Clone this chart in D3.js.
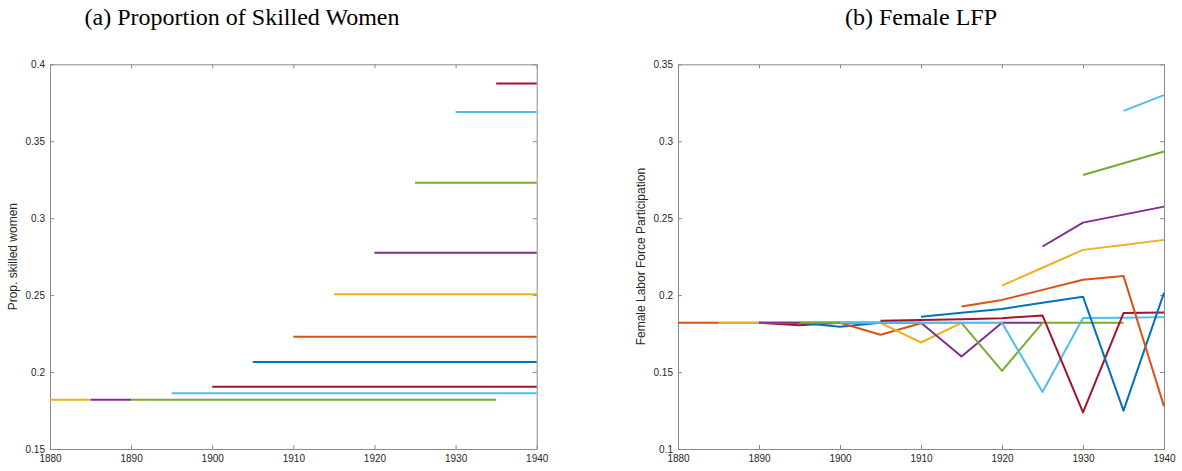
<!DOCTYPE html>
<html>
<head>
<meta charset="utf-8">
<script src="https://cdn.jsdelivr.net/npm/d3@7"></script>
<style>
  body { margin: 0; background: #fff; }
  svg { display: block; }
  .tick text { font-family: "Liberation Sans", Arial, sans-serif; font-size: 10px; fill: #262626; }
  .axis path, .axis line { stroke: #8a8a8a; }
  .ylabel { font-family: "Liberation Sans", Arial, sans-serif; font-size: 12px; fill: #262626; }
  .title { font-family: "Liberation Serif", "DejaVu Serif", serif; font-size: 24px; fill: #000; }
</style>
</head>
<body>
<svg id="chart" width="1182" height="471"></svg>
<script>
const _ = null;
const years = [1880, 1885, 1890, 1895, 1900, 1905, 1910, 1915, 1920, 1925, 1930, 1935, 1940];
const xTicks = [1880, 1890, 1900, 1910, 1920, 1930, 1940];

// matlab default colour order
const blue = "#0072BD", orange = "#D95319", yellow = "#EDB120", purple = "#7E2F8E",
  green = "#77AC30", lightBlue = "#4DBEEE", darkRed = "#A2142F";

// (a) proportion of skilled women
const skilledTicks = [0.15, 0.2, 0.25, 0.3, 0.35, 0.4];
const skilledColors = [yellow, purple, green, lightBlue, darkRed, blue, orange, yellow, purple, green, lightBlue, darkRed];
const skilledValues = [
  [0.182, 0.182, _, _, _, _, _, _, _, _, _, _, _],
  [_, 0.182, 0.182, _, _, _, _, _, _, _, _, _, _],
  [_, _, 0.182, 0.182, 0.182, 0.182, 0.182, 0.182, 0.182, 0.182, 0.182, 0.182, _],
  [_, _, _, 0.1863, 0.1863, 0.1863, 0.1863, 0.1863, 0.1863, 0.1863, 0.1863, 0.1863, 0.1863],
  [_, _, _, _, 0.1904, 0.1904, 0.1904, 0.1904, 0.1904, 0.1904, 0.1904, 0.1904, 0.1904],
  [_, _, _, _, _, 0.2066, 0.2066, 0.2066, 0.2066, 0.2066, 0.2066, 0.2066, 0.2066],
  [_, _, _, _, _, _, 0.2229, 0.2229, 0.2229, 0.2229, 0.2229, 0.2229, 0.2229],
  [_, _, _, _, _, _, _, 0.2505, 0.2505, 0.2505, 0.2505, 0.2505, 0.2505],
  [_, _, _, _, _, _, _, _, 0.2775, 0.2775, 0.2775, 0.2775, 0.2775],
  [_, _, _, _, _, _, _, _, _, 0.323, 0.323, 0.323, 0.323],
  [_, _, _, _, _, _, _, _, _, _, 0.369, 0.369, 0.369],
  [_, _, _, _, _, _, _, _, _, _, _, 0.3876, 0.3876]
];

// (b) female LFP
const lfpTicks = [0.1, 0.15, 0.2, 0.25, 0.3, 0.35];
const lfpColors = [darkRed, blue, orange, yellow, purple, green, lightBlue, darkRed, blue, orange, yellow, purple, green, lightBlue];
const lfpValues = [
  [_, _, 0.182, 0.1805, 0.182, _, _, _, _, _, _, _, _],
  [_, _, _, 0.182, 0.1795, 0.182, _, _, _, _, _, _, _],
  [0.182, 0.182, 0.182, 0.182, 0.182, 0.1742, 0.1817, _, _, _, _, _, _],
  [_, 0.182, 0.182, 0.182, 0.182, 0.182, 0.1692, 0.182, 0.182, _, _, _, _],
  [_, _, 0.182, 0.182, 0.182, 0.182, 0.182, 0.1601, 0.182, 0.182, _, _, _],
  [_, _, _, 0.182, 0.182, 0.182, 0.182, 0.182, 0.1508, 0.182, 0.182, 0.182, _],
  [_, _, _, _, 0.182, 0.182, 0.182, 0.182, 0.182, 0.137, 0.1851, 0.1853, 0.1857],
  [_, _, _, _, _, 0.1834, 0.1838, 0.1843, 0.185, 0.1868, 0.1238, 0.1883, 0.1887],
  [_, _, _, _, _, _, 0.186, 0.1885, 0.191, 0.195, 0.199, 0.1249, 0.2015],
  [_, _, _, _, _, _, _, 0.1926, 0.1969, 0.2034, 0.21, 0.2125, 0.1277],
  [_, _, _, _, _, _, _, _, 0.2062, 0.2178, 0.2294, 0.2325, 0.2359],
  [_, _, _, _, _, _, _, _, _, 0.2316, 0.2471, 0.2523, 0.2575],
  [_, _, _, _, _, _, _, _, _, _, 0.2781, 0.2857, 0.2933],
  [_, _, _, _, _, _, _, _, _, _, _, 0.3197, 0.33]
];

class LinePanel {
  constructor(svg, left, top, width, height) {
    this.svg = svg;
    this.left = left;
    this.top = top;
    this.width = width;
    this.height = height;
  }

  draw(values, colors, yTicks, yLabel, title, titleX) {
    const g = this.svg.append("g").attr("transform", `translate(${this.left}, ${this.top})`);
    const x = d3.scaleLinear().domain([1880, 1940]).range([0, this.width]);
    const y = d3.scaleLinear().domain(d3.extent(yTicks)).range([this.height, 0]);
    const fmt = d3.format("~g");

    g.append("g").attr("class", "axis")
      .attr("transform", `translate(0, ${this.height})`)
      .call(d3.axisBottom(x).tickValues(xTicks).tickFormat(d3.format("d")).tickSizeInner(-4).tickSizeOuter(0).tickPadding(6));
    g.append("g").attr("class", "axis")
      .call(d3.axisTop(x).tickValues(xTicks).tickFormat("").tickSizeInner(-4).tickSizeOuter(0));
    g.append("g").attr("class", "axis")
      .call(d3.axisLeft(y).tickValues(yTicks).tickFormat(fmt).tickSizeInner(-4).tickSizeOuter(0).tickPadding(5));
    g.append("g").attr("class", "axis")
      .attr("transform", `translate(${this.width}, 0)`)
      .call(d3.axisRight(y).tickValues(yTicks).tickFormat("").tickSizeInner(-4).tickSizeOuter(0));

    const line = d3.line()
      .defined(d => d[1] !== null)
      .x(d => x(d[0]))
      .y(d => y(d[1]));

    g.append("g").selectAll("path")
      .data(values)
      .join("path")
      .attr("fill", "none")
      .attr("stroke", (d, i) => colors[i])
      .attr("stroke-width", 2)
      .attr("stroke-linejoin", "round")
      .attr("d", d => line(years.map((yr, i) => [yr, d[i]])));

    g.append("text").attr("class", "ylabel")
      .attr("transform", `translate(${this.yLabelX}, ${this.height / 2}) rotate(-90)`)
      .attr("text-anchor", "middle")
      .text(yLabel);

    this.svg.append("text").attr("class", "title")
      .attr("x", titleX).attr("y", 25)
      .attr("text-anchor", "middle")
      .text(title);
  }
}

const svg = d3.select("#chart");

const panelA = new LinePanel(svg, 50, 64.3, 486.7, 384.7);
panelA.yLabelX = -33;
panelA.draw(skilledValues, skilledColors, skilledTicks, "Prop. skilled women", "(a) Proportion of Skilled Women", 242);

const panelB = new LinePanel(svg, 678, 64.3, 486, 384.7);
panelB.yLabelX = -33;
panelB.draw(lfpValues, lfpColors, lfpTicks, "Female Labor Force Participation", "(b) Female LFP", 921);
</script>
</body>
</html>
